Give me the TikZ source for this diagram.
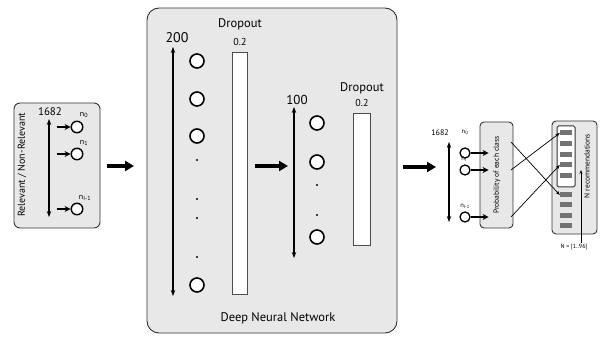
\documentclass[tikz,border=0pt]{standalone}
\usepackage{fontspec}
\setmainfont{PT Sans}
\usetikzlibrary{arrows.meta}
\begin{document}
\begin{tikzpicture}[x=1pt,y=-1pt,
  panel/.style={draw=black!80, fill=black!9, rounded corners=6pt, line width=0.9pt, inner sep=0pt},
  neuron/.style={circle, draw, line width=1.6pt, fill=white, minimum size=14pt, inner sep=0pt},
  sneuron/.style={circle, draw, line width=1.3pt, fill=white, minimum size=10pt, inner sep=0pt},
  dbl/.style={{Stealth[length=6pt,width=4.5pt]}-{Stealth[length=6pt,width=4.5pt]}, line width=1.2pt},
  bigarrow/.style={-{Triangle[length=9pt,width=10pt]}, line width=3.5pt},
  inarrow/.style={-{Stealth[length=6pt,width=6pt]}, line width=1.4pt},
  thin arrow/.style={-{Stealth[length=4.5pt,width=3.5pt]}, line width=0.7pt},
  dropbox/.style={draw=black!70, fill=white, line width=0.8pt, inner sep=0pt},
  dotn/.style={circle, fill=black, inner sep=0pt, minimum size=2.4pt},
  bar/.style={fill=black!55, inner sep=0pt, minimum width=12pt, minimum height=5pt},
  lbl/.style={inner sep=0pt}
]
\useasboundingbox (0,0) rectangle (600,339);
\fill[white] (0,0) rectangle (600,339);

% ---------- input panel ----------
\node[panel, minimum width=86pt, minimum height=125pt] (inbox) at (57,165.5) {};
\node[lbl, rotate=90, font=\fontsize{10}{11}\selectfont] (reltxt) at (22,165) {Relevant / Non-Relevant};
\node[lbl, font=\fontsize{11}{12}\selectfont] (in1682) at (50,112) {1682};
\coordinate (ia1) at (49,119);
\coordinate (ia2) at (49,217);
\draw[dbl] (ia1) -- (ia2);
\node[neuron, minimum size=11.5pt, line width=1.4pt] (i0) at (77,127) {};
\node[neuron, minimum size=11.5pt, line width=1.4pt] (i1) at (77,154) {};
\node[neuron, minimum size=11.5pt, line width=1.4pt] (i2) at (77,209) {};
\foreach \n in {0,1,2} {\draw[inarrow] ([xshift=-14pt]i\n.west) coordinate (it\n) -- (i\n.west);}
\node[lbl, font=\fontsize{8}{9}\selectfont] (ln0) at (84,115) {n\textsubscript{0}};
\node[lbl, font=\fontsize{8}{9}\selectfont] (ln1) at (84,143) {n\textsubscript{1}};
\node[lbl, font=\fontsize{8}{9}\selectfont] (ln2) at (85,198) {n\textsubscript{I-1}};

% ---------- arrow to DNN ----------
\coordinate (a1s) at (107,166);
\coordinate (a1e) at (134,166);
\draw[bigarrow] (a1s) -- (a1e);

% ---------- DNN panel ----------
\node[panel, minimum width=250pt, minimum height=325pt, rounded corners=12pt] (dnn) at (272,170.5) {};
\node[lbl, font=\fontsize{14}{15}\selectfont] (t200) at (177,38) {200};
\node[lbl, font=\fontsize{12.5}{13}\selectfont] (drop1) at (240,24) {Dropout};
\node[lbl, font=\fontsize{10}{11}\selectfont] (p1) at (240,42) {0.2};
\node[dropbox, minimum width=15pt, minimum height=242pt] (d1) at (239.5,173) {};
\coordinate (da1) at (173,47);
\coordinate (da2) at (173,296);
\draw[dbl] (da1) -- (da2);
\node[neuron] (h1) at (197,61) {};
\node[neuron] (h2) at (197,99) {};
\node[neuron] (h3) at (197,136) {};
\node[dotn] (hd1) at (197,160) {};
\node[dotn] (hd2) at (197,199) {};
\node[dotn] (hd3) at (197,218) {};
\node[dotn] (hd4) at (197,257) {};
\node[neuron] (h4) at (197,285) {};

\coordinate (a2s) at (255,166);
\coordinate (a2e) at (288,166);
\draw[bigarrow] (a2s) -- (a2e);

\node[lbl, font=\fontsize{13}{14}\selectfont] (t100) at (297,100) {100};
\node[lbl, font=\fontsize{12.5}{13}\selectfont] (drop2) at (362,88) {Dropout};
\node[lbl, font=\fontsize{10}{11}\selectfont] (p2) at (362,103) {0.2};
\node[dropbox, minimum width=17pt, minimum height=132pt] (d2) at (361.5,179) {};
\coordinate (db1) at (294,107);
\coordinate (db2) at (294,258);
\draw[dbl] (db1) -- (db2);
\node[neuron] (g1) at (317,123) {};
\node[neuron] (g2) at (317,162) {};
\node[dotn] (gd1) at (317,185) {};
\node[dotn] (gd2) at (317,215) {};
\node[neuron] (g3) at (317,237) {};
\node[lbl, font=\fontsize{12.5}{13}\selectfont] (dnntxt) at (278,318) {Deep Neural Network};

% ---------- arrow to output ----------
\coordinate (a3s) at (403,167);
\coordinate (a3e) at (436,167);
\draw[bigarrow] (a3s) -- (a3e);

% ---------- output side ----------
\node[lbl, font=\fontsize{8}{9}\selectfont] (out1682) at (440,133) {1682};
\coordinate (oa1) at (449,142);
\coordinate (oa2) at (449,222);
\draw[dbl] (oa1) -- (oa2);
\node[sneuron] (o0) at (465,153) {};
\node[sneuron] (o1) at (465,170) {};
\node[sneuron] (o2) at (465,217) {};
\node[lbl, font=\fontsize{6.5}{7}\selectfont] (lo0) at (465,132) {n\textsubscript{0}};
\node[lbl, font=\fontsize{6.5}{7}\selectfont] (lo1) at (464,159) {n\textsubscript{I}};
\node[lbl, font=\fontsize{6.5}{7}\selectfont] (lo2) at (465,206) {n\textsubscript{I-1}};

\node[panel, minimum width=33pt, minimum height=106pt, rounded corners=4pt] (prob) at (496.5,175) {};
\node[lbl, rotate=90, font=\fontsize{7.5}{8}\selectfont] (probtxt) at (497,175) {Probability of each class};
\foreach \n in {0,1,2} {\draw[inarrow, line width=1.2pt] (o\n.east) -- (o\n.east -| prob.west) -- ++(9,0);}

\node[panel, minimum width=45pt, minimum height=113pt, rounded corners=4pt] (rec) at (574.5,177.5) {};
\node[dropbox, draw=black!80, line width=1pt, minimum width=18pt, minimum height=61pt, rounded corners=1.5pt] (topn) at (566,156.5) {};
\foreach \i/\yy in {1/133,2/144,3/155,4/165,5/175.5,6/195,7/205,8/216,9/226} {\node[bar] (b\i) at (566,\yy) {};}
\node[lbl, rotate=90, font=\fontsize{7.5}{8}\selectfont] (rectxt) at (587,166) {N recommendations};
\coordinate (nl1) at (581,243);
\coordinate (nl2) at (581,170);
\draw[-{Stealth[length=4pt,width=3pt]}, line width=0.7pt] (nl1) -- (nl2);
\node[lbl, font=\fontsize{6}{7}\selectfont] (ntxt) at (574,247) {N = [1..96]};

\coordinate (c1) at (511,142);
\coordinate (c2) at (511,170);
\coordinate (c3) at (511,217);
\draw[thin arrow] (c1) -- (b6.west);
\draw[thin arrow] (c2) -- (b1.west);
\draw[thin arrow] (c3) -- (b4.west);
\end{tikzpicture}
\end{document}
